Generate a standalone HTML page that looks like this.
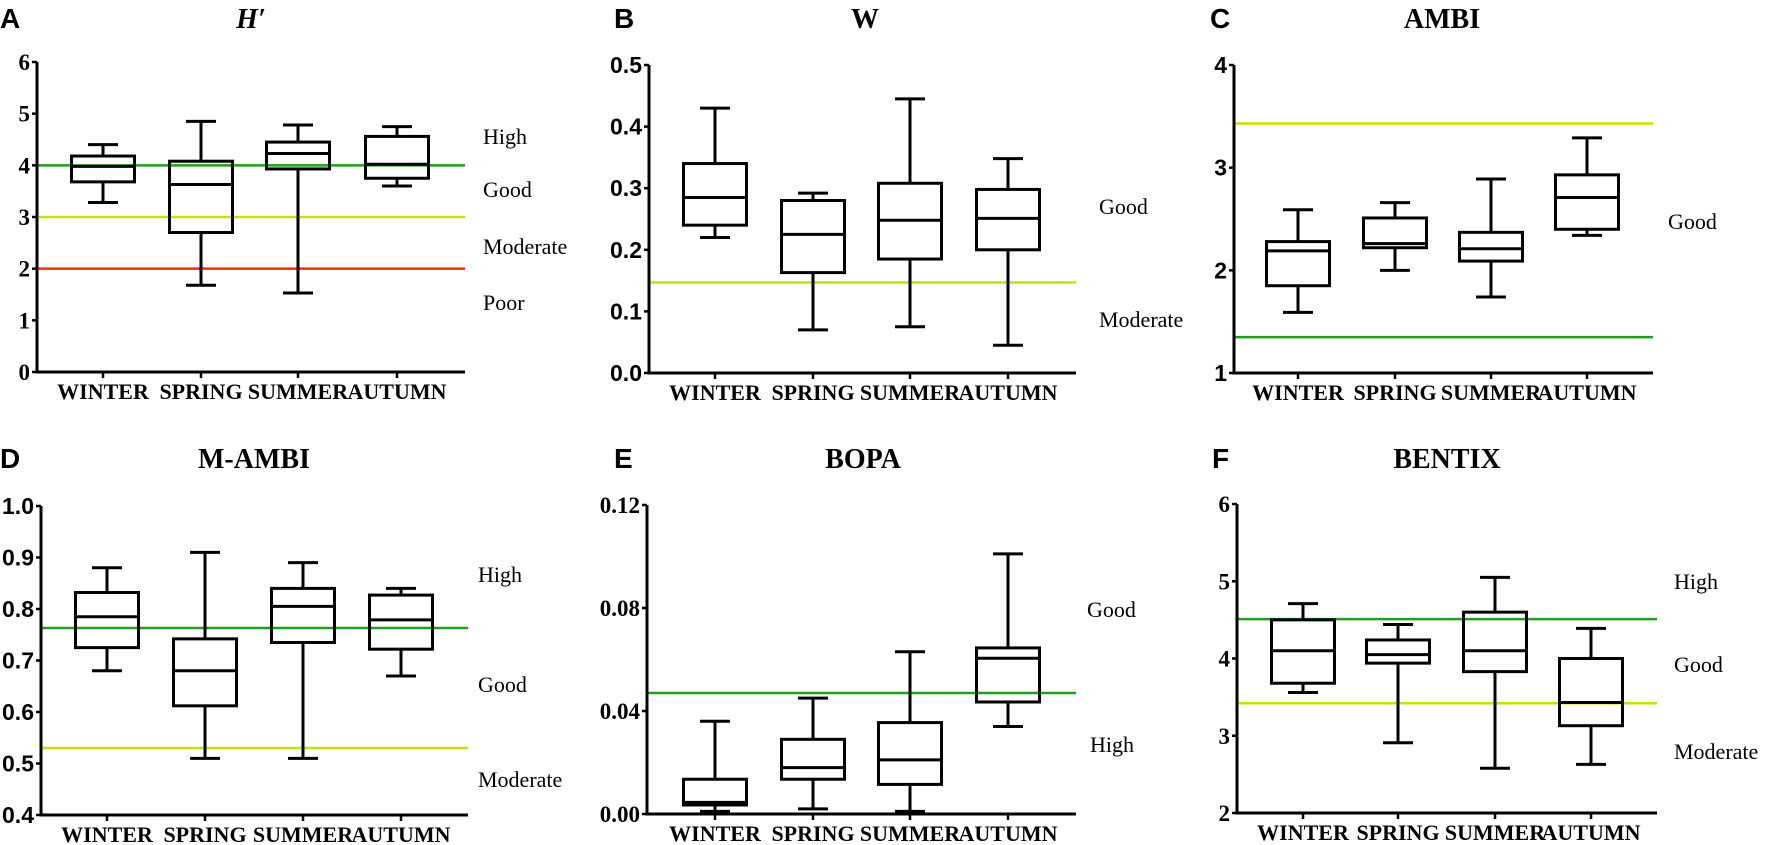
<!DOCTYPE html>
<html><head><meta charset="utf-8"><style>
html,body{margin:0;padding:0;background:#fff;}
svg{display:block;}
</style></head><body>
<svg id="fig" width="1772" height="845" viewBox="0 0 1772 845" xmlns="http://www.w3.org/2000/svg"></svg>
<script>
const categories = ["WINTER","SPRING","SUMMER","AUTUMN"];
// [min, q1, median, q3, max] per season
const hValues = [[3.28,3.68,3.98,4.18,4.4],[1.68,2.7,3.63,4.08,4.85],[1.53,3.93,4.23,4.45,4.78],[3.6,3.75,4.02,4.56,4.75]];
const wValues = [[0.22,0.24,0.285,0.34,0.43],[0.07,0.163,0.225,0.28,0.292],[0.075,0.185,0.248,0.308,0.445],[0.045,0.2,0.251,0.298,0.348]];
const ambiValues = [[1.59,1.85,2.19,2.28,2.59],[2.0,2.22,2.26,2.51,2.66],[1.74,2.09,2.21,2.37,2.89],[2.34,2.4,2.71,2.93,3.29]];
const mambiValues = [[0.68,0.725,0.785,0.832,0.88],[0.51,0.612,0.68,0.742,0.91],[0.51,0.735,0.805,0.84,0.89],[0.67,0.722,0.779,0.827,0.84]];
const bopaValues = [[0.001,0.0035,0.0045,0.0135,0.036],[0.002,0.0135,0.018,0.029,0.045],[0.001,0.0115,0.021,0.0355,0.063],[0.034,0.0435,0.0605,0.0645,0.101]];
const bentixValues = [[3.56,3.68,4.1,4.5,4.71],[2.91,3.94,4.05,4.24,4.44],[2.58,3.83,4.1,4.6,5.05],[2.63,3.13,3.43,4.0,4.39]];
const hTicks = ["0","1","2","3","4","5","6"];
const wTicks = ["0.0","0.1","0.2","0.3","0.4","0.5"];
const ambiTicks = ["1","2","3","4"];
const mambiTicks = ["0.4","0.5","0.6","0.7","0.8","0.9","1.0"];
const bopaTicks = ["0.00","0.04","0.08","0.12"];
const bentixTicks = ["2","3","4","5","6"];
const hLines = [4,3,2];
const wLines = [0.147];
const ambiLines = [3.43,1.35];
const mambiLines = [0.763,0.53];
const bopaLines = [0.047];
const bentixLines = [4.51,3.42];

const GREEN="#1f9e1f", YEL="#c8e000", RED="#ff2a00";
const SERIF='"Liberation Serif", serif', SANS='"Liberation Sans", sans-serif';
const panels = [
 {id:"a",letter:"A",title:"H′",italic:true,data:hValues,ticks:hTicks,lines:hLines,lineColors:[GREEN,YEL,RED],ax:37,ar:465,top:62,bot:372,cx:[103,201,298,397],tickFont:SERIF,tx:251,ty:24,lx:0,
  labels:[["High",483,137],["Good",483,190],["Moderate",483,247],["Poor",483,303]]},
 {id:"b",letter:"B",title:"W",data:wValues,ticks:wTicks,lines:wLines,lineColors:[YEL],ax:649,ar:1076,top:65,bot:373,cx:[715,813,910,1008],tickFont:SANS,tx:865,ty:24,lx:614,
  labels:[["Good",1099,207],["Moderate",1099,320]]},
 {id:"c",letter:"C",title:"AMBI",data:ambiValues,ticks:ambiTicks,lines:ambiLines,lineColors:[YEL,GREEN],ax:1234,ar:1653,top:65,bot:373,cx:[1298,1395,1491,1587],tickFont:SANS,tx:1442,ty:24,lx:1210,
  labels:[["Good",1668,222]]},
 {id:"d",letter:"D",title:"M-AMBI",data:mambiValues,ticks:mambiTicks,lines:mambiLines,lineColors:[GREEN,YEL],ax:41,ar:468,top:506,bot:815,cx:[107,205,303,401],tickFont:SANS,tx:254,ty:464,lx:0,
  labels:[["High",478,575],["Good",478,685],["Moderate",478,780]]},
 {id:"e",letter:"E",title:"BOPA",data:bopaValues,ticks:bopaTicks,lines:bopaLines,lineColors:[GREEN],ax:647,ar:1076,top:505,bot:814,cx:[715,813,910,1008],tickFont:SERIF,tx:863,ty:464,lx:614,
  labels:[["Good",1087,610],["High",1090,745]]},
 {id:"f",letter:"F",title:"BENTIX",data:bentixValues,ticks:bentixTicks,lines:bentixLines,lineColors:[GREEN,YEL],ax:1237,ar:1657,top:504,bot:813,cx:[1303,1398,1495,1591],tickFont:SERIF,tx:1447,ty:464,lx:1212,
  labels:[["High",1674,582],["Good",1674,665],["Moderate",1674,752]]}
];
const NS="http://www.w3.org/2000/svg";
const svg=document.getElementById("fig");
function mk(tag,attrs,parent){const e=document.createElementNS(NS,tag);for(const k in attrs)e.setAttribute(k,attrs[k]);(parent||svg).appendChild(e);return e;}

panels.forEach(p=>{
  const g=mk("g",{});
  
  
  const tmin=parseFloat(p.ticks[0]), tmax=parseFloat(p.ticks[p.ticks.length-1]);
  const y=v=>p.bot-(v-tmin)/(tmax-tmin)*(p.bot-p.top);
  const L=mk("text",{x:p.lx,y:p.ty+4,"font-family":SANS,"font-weight":"bold","font-size":28,fill:"#000"},g);
  L.textContent=p.letter;
  
  
  const T=mk("text",{x:p.tx,y:p.ty+4,"text-anchor":"middle","font-family":SERIF,"font-weight":"bold","font-size":28,fill:"#000","font-style":p.italic?"italic":"normal"},g);
  T.textContent=p.title;
  
  
  p.lines.forEach((v,i)=>{
    const ln=mk("line",{x1:p.ax,x2:p.ar,y1:y(v),y2:y(v),stroke:p.lineColors[i],"stroke-width":2.5},g);
    
    
  });
  p.data.forEach((d,i)=>{
    const cx=p.cx[i], bw=63, cw=30;
    const bg=mk("g",{stroke:"#000","stroke-width":3,fill:"none"},g);
    
    
    mk("line",{x1:cx,x2:cx,y1:y(d[0]),y2:y(d[1])},bg);
    mk("line",{x1:cx,x2:cx,y1:y(d[3]),y2:y(d[4])},bg);
    mk("line",{x1:cx-cw/2,x2:cx+cw/2,y1:y(d[0]),y2:y(d[0])},bg);
    mk("line",{x1:cx-cw/2,x2:cx+cw/2,y1:y(d[4]),y2:y(d[4])},bg);
    mk("rect",{x:cx-bw/2,y:y(d[3]),width:bw,height:y(d[1])-y(d[3])},bg);
    mk("line",{x1:cx-bw/2,x2:cx+bw/2,y1:y(d[2]),y2:y(d[2])},bg);
  });
  const ax=mk("path",{d:`M${p.ax} ${p.top} V${p.bot} H${p.ar}`,stroke:"#000","stroke-width":3,fill:"none"},g);
  
  
  p.ticks.forEach(t=>{
    const yy=y(parseFloat(t));
    mk("line",{x1:p.ax-5,x2:p.ax,y1:yy,y2:yy,stroke:"#000","stroke-width":2.5},g);
    const tl=mk("text",{x:p.ax-7,y:yy+8,"text-anchor":"end","font-family":p.tickFont,"font-weight":"bold","font-size":23,fill:"#000"},g);
    tl.textContent=t;
    
    
  });
  categories.forEach((c,i)=>{
    mk("line",{x1:p.cx[i],x2:p.cx[i],y1:p.bot,y2:p.bot+6,stroke:"#000","stroke-width":2.5},g);
    const cl=mk("text",{x:p.cx[i],y:p.bot+27,"text-anchor":"middle","font-family":SERIF,"font-weight":"bold","font-size":22,fill:"#000"},g);
    cl.textContent=c;
    
    
  });
  p.labels.forEach(l=>{
    const tx=mk("text",{x:l[1],y:l[2]+7,"font-family":SERIF,"font-size":22,fill:"#000"},g);
    tx.textContent=l[0];
    
    
  });
});
</script>
</body></html>
